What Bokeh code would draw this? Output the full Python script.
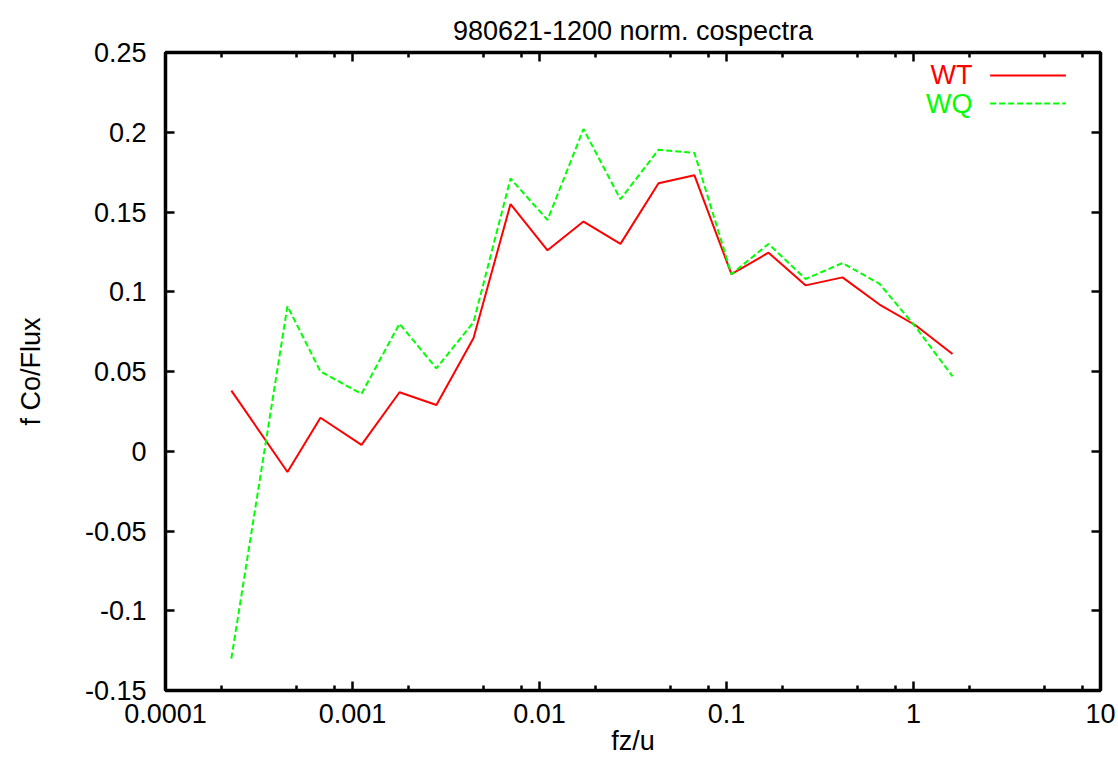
import math
from bokeh.plotting import figure
from bokeh.models import FixedTicker, LogAxis, LinearAxis, Label, Arrow, Range1d
from bokeh.embed import file_html
from bokeh.resources import INLINE

# ---- data ----
freq = [2.25e-4, 4.49e-4, 6.74e-4, 1.117e-3, 1.784e-3, 2.81e-3, 4.44e-3, 7.0e-3,
        0.01104, 0.01719, 0.0271, 0.0433, 0.0674, 0.1063, 0.1677, 0.2646,
        0.4173, 0.658, 1.025, 1.617]
wt = [0.038, -0.013, 0.021, 0.004, 0.037, 0.029, 0.071, 0.155, 0.126, 0.144,
      0.130, 0.168, 0.173, 0.111, 0.1245, 0.104, 0.109, 0.092, 0.079, 0.061]
wq = [-0.130, 0.091, 0.050, 0.036, 0.080, 0.052, 0.081, 0.171, 0.145, 0.202,
      0.158, 0.189, 0.187, 0.111, 0.130, 0.108, 0.118, 0.105, 0.078, 0.047]

x_ticks = [1e-4, 1e-3, 1e-2, 1e-1, 1.0, 10.0]
x_tick_labels = ["0.0001", "0.001", "0.01", "0.1", "1", "10"]
x_minor_mult = [2, 5, 8]
y_ticks = [-0.15, -0.1, -0.05, 0.0, 0.05, 0.1, 0.15, 0.2, 0.25]
y_tick_labels = ["-0.15", "-0.1", "-0.05", "0", "0.05", "0.1", "0.15", "0.2", "0.25"]

title_text = "980621-1200 norm. cospectra"
x_label = "fz/u"
y_label = "f Co/Flux"
series_names = ["WT", "WQ"]
RED = "#ff0000"
GREEN = "#00ff00"

FONT = "Liberation Sans"
FS = "27px"

XMIN, XMAX = 1e-4, 10.0
YMIN, YMAX = -0.15, 0.25

p = figure(frame_width=935, frame_height=638,
           x_axis_type="log",
           x_range=Range1d(XMIN, XMAX), y_range=Range1d(YMIN, YMAX),
           output_backend="svg", toolbar_location=None,
           min_border_left=165, min_border_right=18,
           min_border_top=52, min_border_bottom=72)

p.background_fill_color = "white"
p.border_fill_color = "white"
p.xgrid.visible = False
p.ygrid.visible = False
p.outline_line_color = "black"
p.outline_line_width = 3

p.title.text = title_text
p.title.align = "center"
p.title.text_font = FONT
p.title.text_font_size = FS
p.title.text_font_style = "normal"
p.title.text_color = "black"
p.title.standoff = 14

minor = [m * t for t in x_ticks[:-1] for m in x_minor_mult]
xticker = FixedTicker(ticks=x_ticks, minor_ticks=minor)
yticker = FixedTicker(ticks=y_ticks, minor_ticks=[])


def style(ax):
    ax.axis_line_width = 3.5
    ax.axis_line_color = "black"
    ax.major_tick_in = 9
    ax.major_tick_out = 0
    ax.minor_tick_in = 5
    ax.minor_tick_out = 0
    ax.major_tick_line_width = 2.5
    ax.minor_tick_line_width = 2.5
    ax.major_tick_line_color = "black"
    ax.minor_tick_line_color = "black"
    ax.major_label_text_font = FONT
    ax.major_label_text_font_size = FS
    ax.major_label_text_color = "black"
    ax.axis_label_text_font = FONT
    ax.axis_label_text_font_size = FS
    ax.axis_label_text_font_style = "normal"
    ax.axis_label_text_color = "black"


xa = p.xaxis[0]
xa.ticker = xticker
xa.major_label_overrides = {t: l for t, l in zip(x_ticks, x_tick_labels)}
xa.axis_label = x_label
style(xa)
xa.major_label_standoff = 13
xa.axis_label_standoff = 0

ya = p.yaxis[0]
ya.ticker = yticker
ya.major_label_overrides = {t: l for t, l in zip(y_ticks, y_tick_labels)}
ya.axis_label = y_label
style(ya)
ya.major_label_standoff = 19
ya.axis_label_standoff = 36

top = LogAxis(ticker=xticker)
style(top)
top.major_label_text_font_size = "1px"
top.major_label_text_color = None
top.major_label_standoff = 0
p.add_layout(top, "above")

right = LinearAxis(ticker=yticker)
style(right)
right.major_label_text_font_size = "1px"
right.major_label_text_color = None
right.major_label_standoff = 0
p.add_layout(right, "right")

p.line(freq, wt, line_color=RED, line_width=2)
p.line(freq, wq, line_color=GREEN, line_width=2, line_dash="6 3")


# legend placed by fractions of the frame
def fx(f):
    return 10 ** (math.log10(XMIN) + f * (math.log10(XMAX) - math.log10(XMIN)))


def fy(f):
    return YMIN + f * (YMAX - YMIN)


rows = [(series_names[0], RED, None, 0.964), (series_names[1], GREEN, "6 3", 0.920)]
for name, col, dash, fr in rows:
    p.add_layout(Label(x=fx(0.863), y=fy(fr), text=name, text_align="right",
                       text_baseline="middle", text_color=col, text_font=FONT,
                       text_font_size=FS))
    kw = dict(end=None, x_start=fx(0.882), y_start=fy(fr), x_end=fx(0.963), y_end=fy(fr),
              line_color=col, line_width=2)
    if dash:
        kw["line_dash"] = dash
    p.add_layout(Arrow(**kw))

open("out.html", "w").write(file_html(p, INLINE))
